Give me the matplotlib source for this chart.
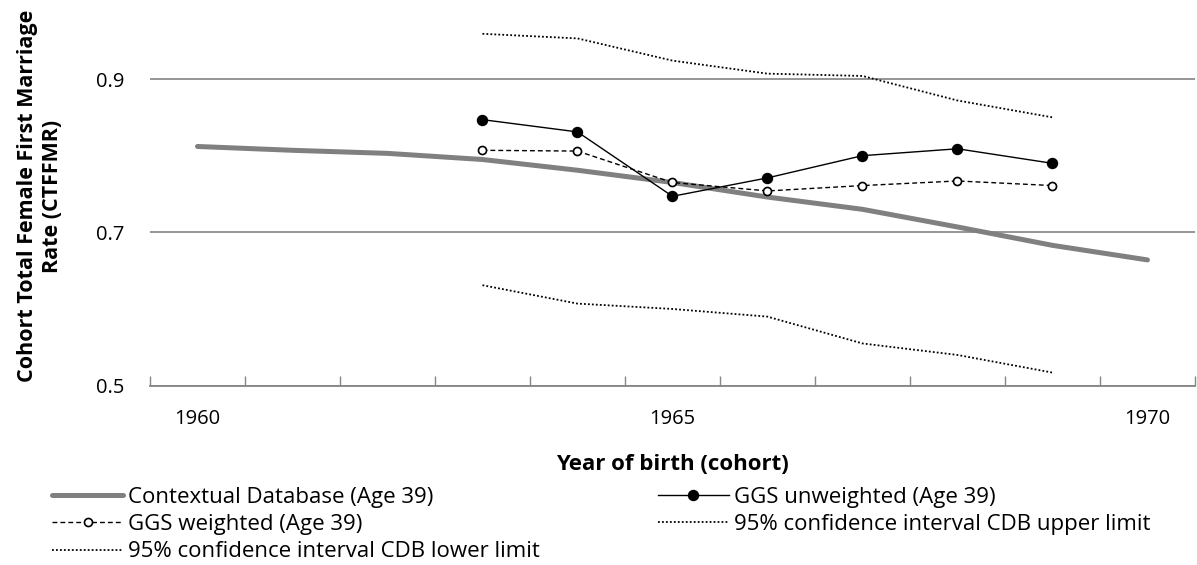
import matplotlib.pyplot as plt
from matplotlib.ticker import FixedLocator

plt.rcParams['font.family'] = ['Open Sans', 'DejaVu Sans']

# data
years_cdb = [1960, 1961, 1962, 1963, 1964, 1965, 1966, 1967, 1968, 1969, 1970]
cdb = [0.812, 0.807, 0.803, 0.795, 0.781, 0.765, 0.746, 0.730, 0.707, 0.683, 0.664]

years_ggs = [1963, 1964, 1965, 1966, 1967, 1968, 1969]
ggs_unweighted = [0.847, 0.831, 0.747, 0.771, 0.800, 0.809, 0.790]
ggs_weighted = [0.807, 0.806, 0.765, 0.754, 0.761, 0.767, 0.761]
ci_upper = [0.959, 0.953, 0.924, 0.907, 0.904, 0.872, 0.850]
ci_lower = [0.631, 0.607, 0.600, 0.590, 0.555, 0.540, 0.517]

xticks = [1960, 1965, 1970]
yticks = [0.5, 0.7, 0.9]

fig = plt.figure(figsize=(11.97, 5.65), dpi=100)
ax = fig.add_axes([0.1253, 0.3175, 0.873, 0.6783])

l_cdb, = ax.plot(years_cdb, cdb, color='#808080', linewidth=3.6, solid_capstyle='round')
l_unw, = ax.plot(years_ggs, ggs_unweighted, color='black', linewidth=1.0,
                 marker='o', markersize=7.2, markerfacecolor='black')
l_w, = ax.plot(years_ggs, ggs_weighted, color='black', linewidth=1.0, linestyle=(0, (3.5, 2.2)),
               marker='o', markersize=5.8, markerfacecolor='white', markeredgewidth=1.2)
l_up, = ax.plot(years_ggs, ci_upper, color='black', linewidth=1.3, linestyle=(0, (1, 1.2)))
l_lo, = ax.plot(years_ggs, ci_lower, color='black', linewidth=1.3, linestyle=(0, (1, 1.2)))

ax.set_xlim(1959.5, 1970.5)
ax.set_ylim(0.5, 1.0)
ax.set_xticks(xticks)
ax.set_xticklabels([str(x) for x in xticks], fontsize=14.5)
ax.xaxis.set_minor_locator(FixedLocator([y + 0.5 for y in range(1959, 1971)]))
ax.tick_params(axis='x', which='major', length=0, pad=17)
ax.tick_params(axis='x', which='minor', direction='in', length=7, color='#868686', width=1)
ax.set_yticks(yticks)
ax.set_yticklabels(['0.5', '0.7', '0.9'], fontsize=14.5)
ax.tick_params(axis='y', length=0, pad=18.5)
ax.grid(axis='y', color='#8c8c8c', linewidth=1.3)
ax.set_axisbelow(True)
for s in ['top', 'right', 'left']:
    ax.spines[s].set_visible(False)
ax.spines['bottom'].set_color('#868686')
ax.spines['bottom'].set_linewidth(1.3)

ax.set_xlabel('Year of birth (cohort)', fontsize=16, fontweight='bold', labelpad=18)
fig.text(0.0334, 0.653, 'Cohort Total Female First Marriage\nRate (CTFFMR)', rotation=90,
         ha='center', va='center', fontsize=15.5, fontweight='bold', linespacing=1.3)

handles = [l_cdb, l_w, l_lo, l_unw, l_up]
labels = ['Contextual Database (Age 39)', 'GGS weighted (Age 39)',
          '95% confidence interval CDB lower limit', 'GGS unweighted (Age 39)',
          '95% confidence interval CDB upper limit']
fig.legend(handles, labels, loc='upper left', bbox_to_anchor=(0.0434, 0.138), ncol=2,
           frameon=False, fontsize=16, handlelength=3.2, handletextpad=0.22,
           columnspacing=5.3, labelspacing=0.28, borderpad=0, borderaxespad=0)

fig.savefig('out.png', dpi=100)
